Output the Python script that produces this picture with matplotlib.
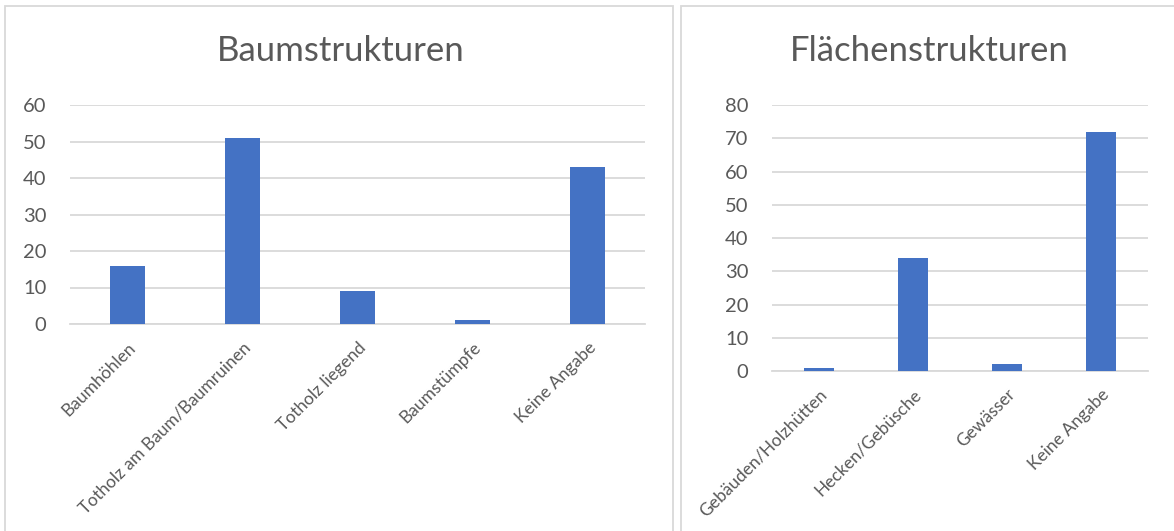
import matplotlib
matplotlib.use("Agg")
import matplotlib.pyplot as plt
from matplotlib.patches import Rectangle

plt.rcParams['font.family'] = ['Lato', 'DejaVu Sans']

# Data
baum_kat = ["Baumhöhlen", "Totholz am Baum/Baumruinen", "Totholz liegend",
            "Baumstümpfe", "Keine Angabe"]
baum_werte = [16, 51, 9, 1, 43]
flaeche_kat = ["Gebäuden/Holzhütten", "Hecken/Gebüsche", "Gewässer", "Keine Angabe"]
flaeche_werte = [1, 34, 2, 72]

TXT = "#595959"
GRID = "#D9D9D9"
BAR = "#4472C4"

W, H = 1174, 531
fig = plt.figure(figsize=(W / 100, H / 100), dpi=100)


def px_axes(x0, x1, y0, y1):
    # pixel box (top-down image coords) -> figure axes
    return fig.add_axes([x0 / W, (H - y1) / H, (x1 - x0) / W, (y1 - y0) / H])


def bar_chart(ax, cats, vals, ymax):
    x = range(len(cats))
    ax.bar(x, vals, width=0.313, color=BAR, zorder=3)
    ax.set_xlim(-0.5, len(cats) - 0.5)
    ax.set_ylim(0, ymax)
    ax.set_yticks(range(0, ymax + 1, 10))
    ax.yaxis.grid(True, color=GRID, linewidth=1.3, zorder=0)
    ax.set_axisbelow(True)
    for s in ["top", "right", "left"]:
        ax.spines[s].set_visible(False)
    ax.spines["bottom"].set_color(GRID)
    ax.spines["bottom"].set_linewidth(1.3)
    ax.tick_params(axis="y", length=0, pad=17, labelsize=14.5, labelcolor=TXT)
    ax.tick_params(axis="x", length=0, pad=11, labelcolor=TXT)
    ax.set_xticks(list(x))
    ax.set_xticklabels(cats, rotation=45, ha="right", rotation_mode="anchor",
                       fontsize=12.5, color=TXT)


ax1 = px_axes(70, 645, 105, 324)
bar_chart(ax1, baum_kat, baum_werte, 60)

ax2 = px_axes(772, 1148, 105, 371)
bar_chart(ax2, flaeche_kat, flaeche_werte, 80)

fig.text(341 / W, 1 - 51 / H, "Baumstrukturen", ha="center", va="center",
         fontsize=25, color=TXT)
fig.text(929 / W, 1 - 51 / H, "Flächenstrukturen", ha="center", va="center",
         fontsize=25, color=TXT)

# panel borders
fig.patches.append(Rectangle((5 / W, -0.05), 668 / W, 1.05 - 6 / H, transform=fig.transFigure,
                             fill=False, edgecolor=GRID, linewidth=1.3))
fig.patches.append(Rectangle((681 / W, -0.05), 0.5, 1.05 - 6 / H, transform=fig.transFigure,
                             fill=False, edgecolor=GRID, linewidth=1.3))

fig.savefig("out.png", dpi=100)
